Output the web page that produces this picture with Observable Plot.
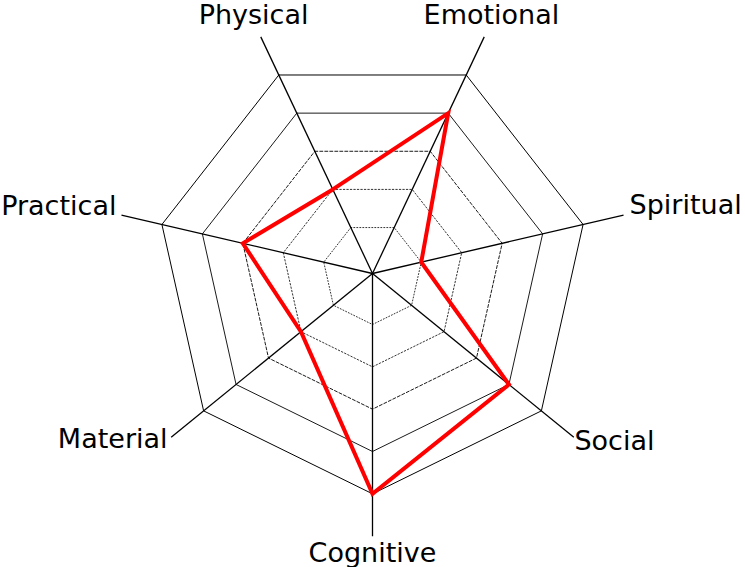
<!DOCTYPE html>
<html><head><meta charset="utf-8">
<script src="https://cdn.jsdelivr.net/npm/d3@7"></script>
<script src="https://cdn.jsdelivr.net/npm/@observablehq/plot@0.6"></script>
<style>html,body{margin:0;padding:0;background:#fff;} svg{display:block;}</style>
</head><body><div id="chart"></div>
<script>
// ---- data ----
const axes = ["Physical", "Emotional", "Spiritual", "Social", "Cognitive", "Material", "Practical"];
const values = [2, 4, 1, 4, 5, 2, 3];
const ringLevels = [1, 2, 3, 4, 5];
const axisEnd = 6;

// ---- geometry ----
const W = 745, H = 567, CX = 372, CY = 273, yStretch = 1.02;
const r = d3.scaleLinear().domain([0, 5]).range([8.5, 216]);
const n = axes.length;
const angle = i => -Math.PI / n + (i % n) * 2 * Math.PI / n;
const pt = (i, v) => ({x: r(v) * Math.sin(angle(i)), y: r(v) * Math.cos(angle(i))});
const centerValue = r.invert(0);

const ringData = ringLevels.flatMap(level =>
  d3.range(n + 1).map(k => ({level, ...pt(k, level)})));
const axisData = axes.map((a, i) => {
  const p0 = pt(i, centerValue), p1 = pt(i, axisEnd);
  return {axis: a, x1: p0.x, y1: p0.y, x2: p1.x, y2: p1.y};
});
const seriesData = d3.range(n + 1).map(k => ({axis: axes[k % n], value: values[k % n], ...pt(k, values[k % n])}));

const labelData = axes.map((a, i) => {
  const s = Math.sin(angle(i)), c = Math.cos(angle(i));
  let group;
  if (c > 0.8) group = "top"; else if (c < -0.8) group = "bottom"; else group = s > 0 ? "right" : "left";
  const v = (group === "top" || group === "bottom") ? 6.4 : 6.05;
  return {axis: a, group, c, ...pt(i, v)};
});

const ringStyle = {
  1: {dash: "1,2", w: 0.8},
  2: {dash: "1.5,2", w: 0.8},
  3: {dash: "3,2", w: 0.9},
  4: {dash: null, w: 0.9},
  5: {dash: null, w: 1}
};

const font = {fontSize: 27, fill: "black", fontFamily: "DejaVu Sans"};

const marks = [
  ...ringLevels.map(L => Plot.line(ringData.filter(d => d.level === L), {
    x: "x", y: "y", stroke: "black", strokeWidth: ringStyle[L].w,
    strokeDasharray: ringStyle[L].dash || undefined
  })),
  Plot.link(axisData, {x1: "x1", y1: "y1", x2: "x2", y2: "y2", stroke: "black", strokeWidth: 1.3}),
  Plot.line(seriesData, {x: "x", y: "y", stroke: "#ff0000", strokeWidth: 4, strokeLinejoin: "miter", strokeMiterlimit: 10}),
  Plot.text(labelData.filter(d => d.group === "top"), {x: "x", y: "y", text: "axis", textAnchor: "middle", lineAnchor: "middle", dy: -6, ...font}),
  Plot.text(labelData.filter(d => d.group === "bottom"), {x: "x", y: "y", text: "axis", textAnchor: "middle", lineAnchor: "middle", dy: 0, ...font}),
  Plot.text(labelData.filter(d => d.group === "right" && d.c > 0), {x: "x", y: "y", text: "axis", textAnchor: "start", lineAnchor: "middle", dx: 4, dy: -9, ...font}),
  Plot.text(labelData.filter(d => d.group === "right" && d.c <= 0), {x: "x", y: "y", text: "axis", textAnchor: "start", lineAnchor: "middle", dx: -1, dy: 3, ...font}),
  Plot.text(labelData.filter(d => d.group === "left" && d.c > 0), {x: "x", y: "y", text: "axis", textAnchor: "end", lineAnchor: "middle", dx: -3, dy: -8, ...font}),
  Plot.text(labelData.filter(d => d.group === "left" && d.c <= 0), {x: "x", y: "y", text: "axis", textAnchor: "end", lineAnchor: "middle", dx: -2, dy: 1, ...font})
];

const chart = Plot.plot({
  width: W, height: H, margin: 0,
  x: {domain: [-CX, W - CX], range: [0, W], axis: null},
  y: {domain: [-(H - CY) / yStretch, CY / yStretch], range: [H, 0], axis: null},
  style: {background: "white", fontFamily: "DejaVu Sans", overflow: "visible"},
  marks
});
document.getElementById("chart").appendChild(chart);
</script>
</body></html>
